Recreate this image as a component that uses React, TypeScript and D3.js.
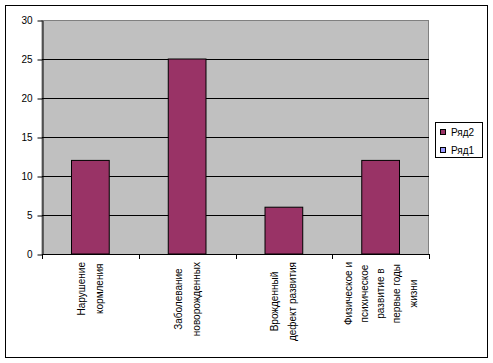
import React, { useEffect, useRef } from "react";
import * as d3 from "d3";

// categories (each split into the lines shown on the chart)
const categories = [
  ["Нарушение", "кормления"],
  ["Заболевание", "новорожденных"],
  ["Врожденный", "дефект развития"],
  ["Физическое и", "психическое", "развитие в", "первые годы", "жизни"],
];
const ryad2 = [12, 25, 6, 12];
const yTicks = [0, 5, 10, 15, 20, 25, 30];
const legendNames = ["Ряд2", "Ряд1"];
const legendColors = ["#993366", "#9999FF"];

const W = 493;
const H = 363;

function App() {
  const svgRef = useRef<SVGSVGElement>(null);

  useEffect(() => {
    const svg = d3.select(svgRef.current);
    svg.selectAll("*").remove();
    const font = "'Liberation Sans', Arial, sans-serif";

    const left = 42;
    const right = 429;
    const top = 20;
    const bottom = 254;

    // chart border
    svg
      .append("rect")
      .attr("x", 5.5)
      .attr("y", 5.5)
      .attr("width", 482)
      .attr("height", 352)
      .attr("fill", "#fff")
      .attr("stroke", "#000");

    const xScale = d3
      .scaleBand<number>()
      .domain(d3.range(categories.length))
      .range([left, right]);
    const yScale = d3.scaleLinear().domain([0, 30]).range([bottom, top]);

    // plot area
    svg
      .append("rect")
      .attr("x", left)
      .attr("y", top + 0.5)
      .attr("width", right - left - 0.5)
      .attr("height", bottom - top)
      .attr("fill", "#C0C0C0")
      .attr("stroke", "#808080");

    // gridlines
    svg
      .append("g")
      .selectAll("line")
      .data(yTicks.filter((t) => t > 0 && t < 30))
      .enter()
      .append("line")
      .attr("x1", left)
      .attr("x2", right)
      .attr("y1", (d) => Math.round(yScale(d)) + 0.5)
      .attr("y2", (d) => Math.round(yScale(d)) + 0.5)
      .attr("stroke", "#000");

    // bars
    const bw = xScale.bandwidth() * 0.39;
    svg
      .append("g")
      .selectAll("rect")
      .data(ryad2)
      .enter()
      .append("rect")
      .attr("x", (d, i) => xScale(i)! + xScale.bandwidth() / 2 - bw / 2)
      .attr("y", (d) => yScale(d))
      .attr("width", bw)
      .attr("height", (d) => bottom - yScale(d))
      .attr("fill", "#993366")
      .attr("stroke", "#000");

    // y axis
    const yAxis = d3
      .axisLeft(yScale)
      .tickValues(yTicks)
      .tickSize(5)
      .tickPadding(5)
      .tickSizeOuter(0);
    const ya = svg
      .append("g")
      .attr("transform", `translate(${left + 0.5},0.5)`)
      .call(yAxis);
    ya.selectAll("line").attr("stroke", "#000");
    ya.select(".domain").attr("stroke", "#000");
    ya.selectAll("text")
      .attr("font-family", font)
      .attr("font-size", 10)
      .attr("fill", "#000");

    // x axis line and ticks
    svg
      .append("line")
      .attr("x1", left)
      .attr("x2", right)
      .attr("y1", bottom + 0.5)
      .attr("y2", bottom + 0.5)
      .attr("stroke", "#000");
    svg
      .append("g")
      .selectAll("line")
      .data(d3.range(categories.length + 1))
      .enter()
      .append("line")
      .attr("x1", (i) => Math.round(left + i * xScale.step()) + 0.5)
      .attr("x2", (i) => Math.round(left + i * xScale.step()) + 0.5)
      .attr("y1", bottom)
      .attr("y2", bottom + 5)
      .attr("stroke", "#000");

    // category labels, rotated, top aligned at y=262
    categories.forEach((lines, i) => {
      const cx = xScale(i)! + xScale.bandwidth() / 2;
      const gap = lines.length > 2 ? 16.2 : 18;
      const g = svg.append("g");
      const texts = g
        .selectAll("text")
        .data(lines)
        .enter()
        .append("text")
        .attr("font-family", font)
        .attr("font-size", 10)
        .attr("fill", "#000")
        .attr("text-anchor", "middle")
        .text((d) => d);
      let maxLen = 0;
      texts.each(function () {
        maxLen = Math.max(maxLen, (this as SVGTextElement).getComputedTextLength());
      });
      const cy = 262 + maxLen / 2;
      texts.attr("transform", (d, j) => {
        const x = cx + (j - (lines.length - 1) / 2) * gap + 3.6;
        return `translate(${x},${cy}) rotate(-90)`;
      });
    });

    // legend
    const lg = svg.append("g");
    lg.append("rect")
      .attr("x", 435.5)
      .attr("y", 122.5)
      .attr("width", 47)
      .attr("height", 35)
      .attr("fill", "#fff")
      .attr("stroke", "#000");
    legendNames.forEach((name, i) => {
      const cy = 132 + i * 18;
      lg.append("rect")
        .attr("x", 440.5)
        .attr("y", cy - 2.5)
        .attr("width", 5)
        .attr("height", 5)
        .attr("fill", legendColors[i])
        .attr("stroke", "#000");
      lg.append("text")
        .attr("x", 451)
        .attr("y", cy + 3.5)
        .attr("font-family", font)
        .attr("font-size", 10)
        .attr("fill", "#000")
        .text(name);
    });
  }, []);

  return (
    <svg
      ref={svgRef}
      width={W}
      height={H}
      style={{ position: "absolute", left: 0, top: 0 }}
    />
  );
}

export default App;
